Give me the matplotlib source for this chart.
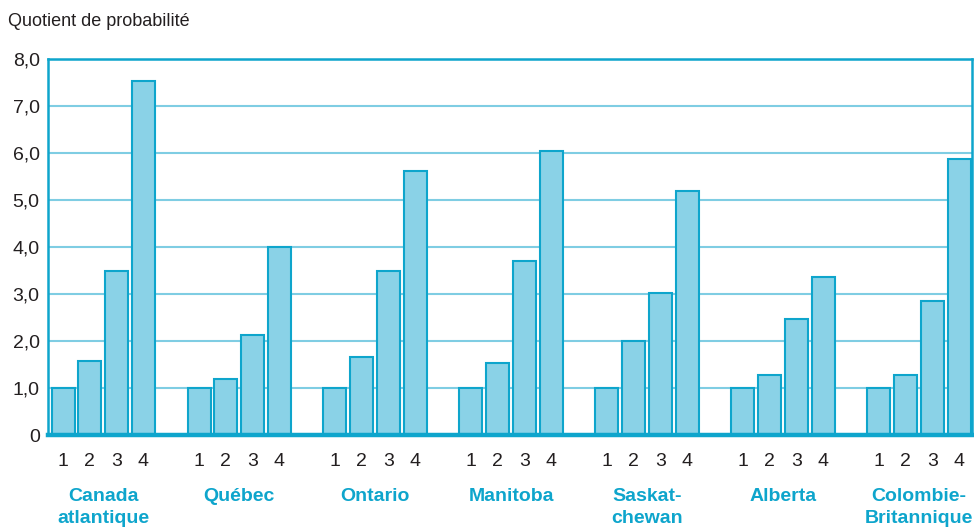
import matplotlib
matplotlib.use("Agg")
import matplotlib.pyplot as plt

plt.rcParams['font.family'] = ['Liberation Sans', 'DejaVu Sans']

regions = ["Canada\natlantique", "Québec", "Ontario", "Manitoba", "Saskat-\nchewan", "Alberta", "Colombie-\nBritannique"]
bar_labels = ["1", "2", "3", "4"]
values = [
    [1.0, 1.57, 3.49, 7.53],
    [1.0, 1.19, 2.13, 4.0],
    [1.0, 1.66, 3.49, 5.62],
    [1.0, 1.53, 3.70, 6.04],
    [1.0, 2.00, 3.02, 5.19],
    [1.0, 1.28, 2.47, 3.36],
    [1.0, 1.28, 2.85, 5.87],
]
yticks = [0, 1, 2, 3, 4, 5, 6, 7, 8]
ytick_labels = ["0", "1,0", "2,0", "3,0", "4,0", "5,0", "6,0", "7,0", "8,0"]

CYAN = "#0ea5cc"
FILL = "#8ad2e7"
GRID = "#7fcde3"
TXT = "#231f20"

fig = plt.figure(figsize=(9.74, 5.29), dpi=100)
ax = fig.add_axes([48/974, 1-435/529, (972-48)/974, (435-59)/529])

group_step = 136
bar_step = 26.7
width = 23
xs, hs, tl = [], [], []
for g, vals in enumerate(values):
    for k, v in enumerate(vals):
        xs.append(g*group_step + k*bar_step)
        hs.append(v)
        tl.append(bar_labels[k])

ax.bar(xs, hs, width=width, color=FILL, edgecolor=CYAN, linewidth=1.5, zorder=3)
ax.set_xlim(-15, 909)
ax.set_ylim(0, 8)
ax.set_yticks(yticks)
ax.set_yticklabels(ytick_labels, fontsize=14, color=TXT)
ax.yaxis.grid(True, color=GRID, linewidth=1.5, zorder=0)
ax.tick_params(axis='y', length=0, pad=6)
ax.set_xticks(xs)
ax.set_xticklabels(tl, fontsize=14, color=TXT)
ax.tick_params(axis='x', length=0, pad=13)

for s in ["top", "right", "left"]:
    ax.spines[s].set_color(CYAN)
    ax.spines[s].set_linewidth(1.8)
ax.spines["bottom"].set_color(CYAN)
ax.spines["bottom"].set_linewidth(3.2)
ax.spines["bottom"].set_zorder(4)

for g, name in enumerate(regions):
    cx = g*group_step + 1.5*bar_step
    ax.text(cx, -1.12, name, ha="center", va="top", fontsize=14, fontweight="bold",
            color=CYAN, linespacing=1.4, transform=ax.transData, clip_on=False)

fig.text(8/974, 1-21/529, "Quotient de probabilité", fontsize=13, color=TXT, va="center", ha="left")

fig.savefig("out.png", dpi=100)
